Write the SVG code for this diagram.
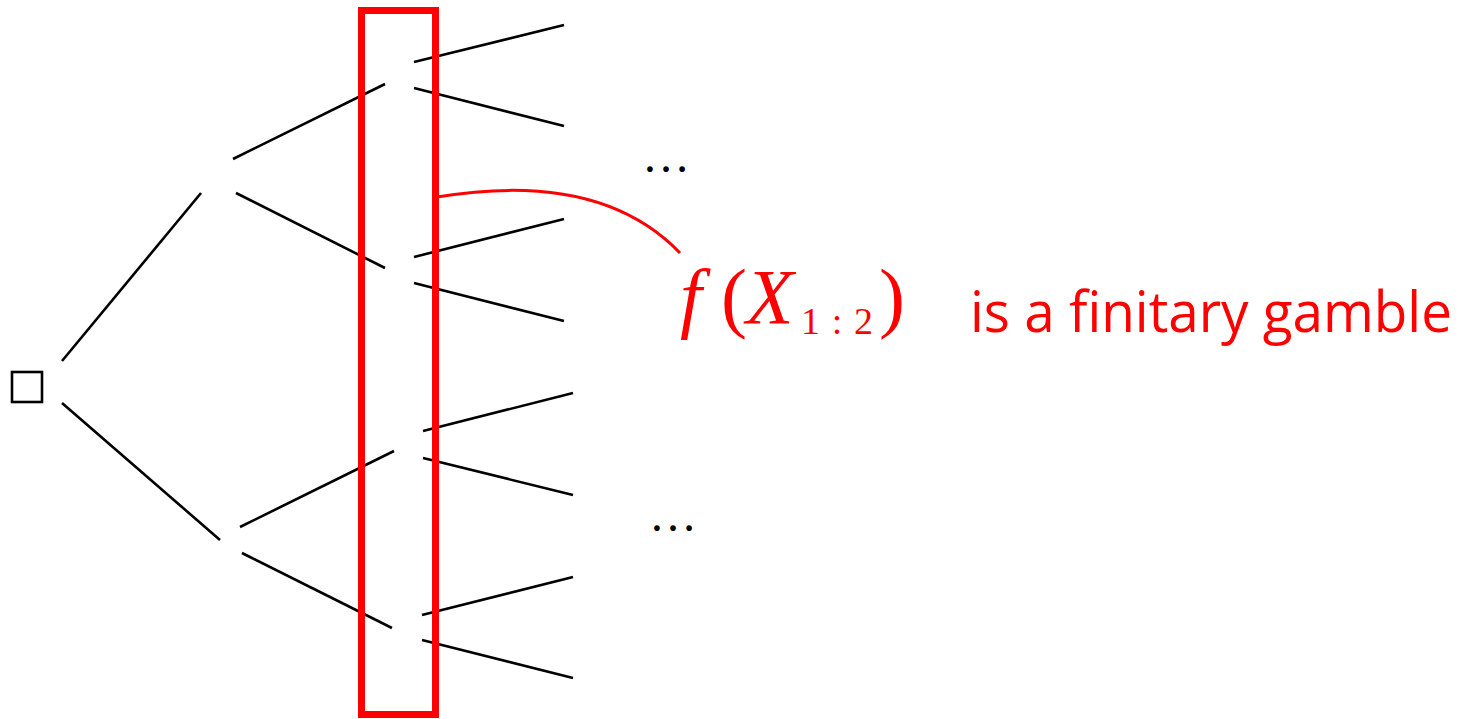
<svg xmlns="http://www.w3.org/2000/svg" width="1463" height="719" viewBox="0 0 1463 719">
<style>
.e{stroke:#000;stroke-width:2.6;fill:none;stroke-linecap:butt}
.m{font-family:"Liberation Serif",serif;fill:#ff0000}
.dots{font-family:"Liberation Serif",serif;fill:#000;font-size:48px}
</style>
<rect width="1463" height="719" fill="#fff"/>
<g id="root"><rect x="12" y="372" width="30" height="30" fill="none" stroke="#000" stroke-width="2.6"/></g>
<g id="connectors">
<line class="e" x1="62" y1="361" x2="201" y2="193"/>
<line class="e" x1="62" y1="403" x2="220" y2="540"/>
<line class="e" x1="233" y1="159" x2="385" y2="84"/>
<line class="e" x1="236" y1="193" x2="385" y2="268"/>
<line class="e" x1="240" y1="527" x2="394" y2="451"/>
<line class="e" x1="242" y1="553" x2="392" y2="628"/>
<line class="e" x1="414" y1="62" x2="564" y2="25"/>
<line class="e" x1="414" y1="88" x2="564" y2="126"/>
<line class="e" x1="414" y1="257" x2="564" y2="219"/>
<line class="e" x1="414" y1="283" x2="564" y2="321"/>
<line class="e" x1="423" y1="431" x2="573" y2="393"/>
<line class="e" x1="423" y1="458" x2="573" y2="495"/>
<line class="e" x1="422" y1="615" x2="573" y2="577"/>
<line class="e" x1="422" y1="640" x2="573" y2="678"/>
</g>
<g id="dots-top"><text class="dots" x="642" y="172">…</text></g>
<g id="dots-bottom"><text class="dots" x="649" y="531">…</text></g>
<g id="highlight">
<rect x="361.5" y="10.5" width="74" height="704" fill="none" stroke="#ff0000" stroke-width="7"/>
<path d="M437,197 Q600,170 680,253" fill="none" stroke="#ff0000" stroke-width="3"/>
</g>
<g id="label">
<text class="m" x="680" y="323" font-size="78" font-style="italic">f</text>
<text class="m" x="721" y="323" font-size="78">(</text>
<text class="m" x="746" y="323" font-size="78" font-style="italic">X</text>
<text class="m" x="801" y="334" font-size="38" textLength="72" lengthAdjust="spacing">1:2</text>
<text class="m" x="879" y="323" font-size="78">)</text>
<text x="970" y="332" font-family="'Open Sans',sans-serif" font-size="56" fill="#ff0000" textLength="482" lengthAdjust="spacingAndGlyphs">is a finitary gamble</text>
</g>
</svg>
